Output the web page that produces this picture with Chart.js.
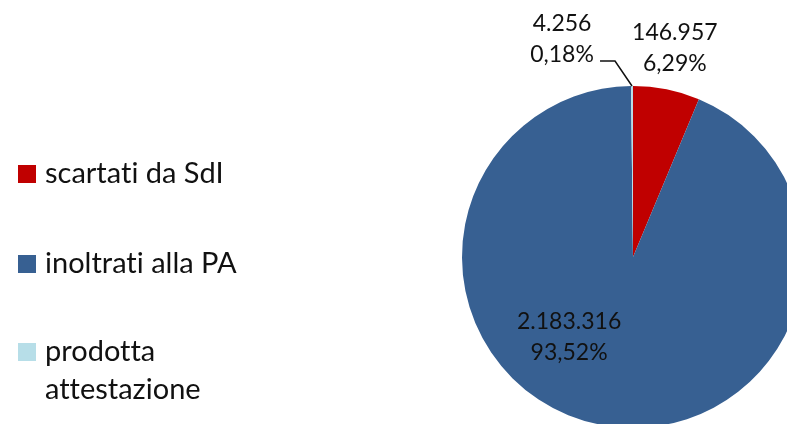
<!DOCTYPE html>
<html><head><meta charset="utf-8">
<script src="https://cdn.jsdelivr.net/npm/chart.js@4/dist/chart.umd.min.js"></script>
<style>
html,body{margin:0;padding:0;background:#fff;overflow:hidden;}
#wrap{position:relative;width:787px;height:424px;overflow:hidden;}
#c{position:absolute;left:0;top:0;}
.lg{position:absolute;left:18px;font-family:Lato,"Open Sans",sans-serif;font-size:29px;color:#111;font-variant-ligatures:none;}
.lg .sw{position:absolute;left:0;width:18px;height:18px;}
.lg .tx{position:absolute;left:27px;white-space:nowrap;line-height:38px;}
</style></head><body>
<div id="wrap"><canvas id="c" width="1000" height="700"></canvas></div>
<script>
const categories = ["scartati da SdI", "inoltrati alla PA", "prodotta attestazione"];
const legendLines = [["scartati da SdI"], ["inoltrati alla PA"], ["prodotta", "attestazione"]];
const values = [146957, 2183316, 4256];
const valueLabels = ["146.957", "2.183.316", "4.256"];
const percentLabels = ["6,29%", "93,52%", "0,18%"];
const colors = ["#C00000", "#376092", "#B7DEE8"];

// legend (HTML text)
const legendTops = [165, 255, 343];
const wrap = document.getElementById('wrap');
categories.forEach((c, i) => {
  const d = document.createElement('div');
  d.className = 'lg';
  d.style.top = legendTops[i] + 'px';
  const sw = document.createElement('div');
  sw.className = 'sw'; sw.style.background = colors[i]; sw.style.top = '0px';
  const tx = document.createElement('div');
  tx.className = 'tx'; tx.style.top = '-12px';
  tx.innerHTML = legendLines[i].join('<br>');
  d.appendChild(sw); d.appendChild(tx);
  wrap.appendChild(d);
});

const labelPlugin = {
  id: 'pieLabels',
  afterDatasetsDraw(chart) {
    const ctx = chart.ctx;
    const meta = chart.getDatasetMeta(0);
    ctx.save();
    ctx.font = '23px Lato, "Open Sans", sans-serif';
    ctx.fillStyle = '#111';
    ctx.textAlign = 'center';
    ctx.textBaseline = 'middle';
    meta.data.forEach((arc, i) => {
      const {x, y, outerRadius, startAngle, endAngle} = arc.getProps(['x','y','outerRadius','startAngle','endAngle'], true);
      const mid = (startAngle + endAngle) / 2;
      let cx, cy;
      if (i === 0) {
        cx = x + Math.cos(mid) * outerRadius * 1.245;
        cy = y + Math.sin(mid) * outerRadius * 1.245;
      } else if (i === 1) {
        const a = 128.5 * Math.PI / 180;
        cx = x + Math.cos(a) * outerRadius * 0.6;
        cy = y + Math.sin(a) * outerRadius * 0.6;
      } else {
        const ox = x + Math.cos(mid) * outerRadius;
        const oy = y + Math.sin(mid) * outerRadius;
        const ex = ox - 17, ey = oy - 25;
        const lx = ex - 15;
        ctx.beginPath();
        ctx.moveTo(ox, oy); ctx.lineTo(ex, ey); ctx.lineTo(lx, ey);
        ctx.strokeStyle = '#111'; ctx.lineWidth = 1.5; ctx.stroke();
        cx = lx - 38; cy = ey - 22;
      }
      ctx.fillText(valueLabels[i], cx, cy - 15.5);
      ctx.fillText(percentLabels[i], cx, cy + 15.5);
    });
    ctx.restore();
  }
};

new Chart(document.getElementById('c'), {
  type: 'pie',
  data: { labels: categories, datasets: [{ data: values, backgroundColor: colors, borderWidth: 0 }] },
  options: {
    responsive: false, animation: false, devicePixelRatio: 1,
    layout: { padding: { left: 462, top: 86, right: 196, bottom: 272 } },
    plugins: { legend: { display: false }, tooltip: { enabled: false } }
  },
  plugins: [labelPlugin]
});
</script></body></html>
